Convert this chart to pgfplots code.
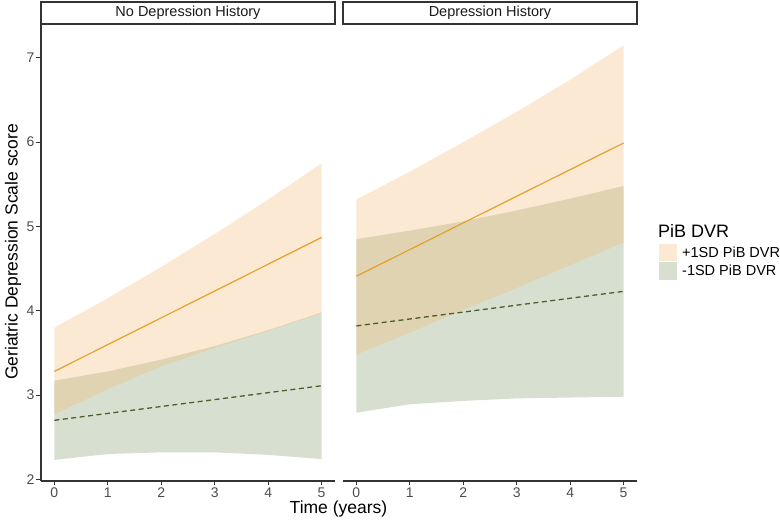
\documentclass[border=0pt]{standalone}
\usepackage{fontspec}
\setmainfont{Liberation Sans}
\usepackage{pgfplots}
\pgfplotsset{compat=1.18}

\definecolor{orfill}{RGB}{245,182,108}
\definecolor{grfill}{RGB}{122,152,98}
\definecolor{orline}{RGB}{229,160,46}
\definecolor{grline}{RGB}{75,94,43}
\definecolor{tickgray}{RGB}{77,77,77}
\definecolor{axgray}{RGB}{51,51,51}

\pgfplotsset{
  panel/.style={
    scale only axis, width=294pt, height=456pt,
    xmin=-0.25, xmax=5.25, ymin=1.98, ymax=7.39,
    xtick={0,1,2,3,4,5}, ytick={2,3,4,5,6,7},
    axis x line*=bottom,
    axis line style={-, draw=axgray, line width=1.1pt},
    tick align=outside, major tick length=4.5pt,
    tick style={draw=axgray, line width=0.8pt},
    ticklabel style={font=\fontsize{14}{16}\selectfont, text=tickgray, inner sep=2pt},
    /pgf/number format/assume math mode=true,
  },
  band/.style={draw=none, fill=#1, fill opacity=0.3},
  orl/.style={draw=orline, line width=1.2pt},
  grl/.style={draw=grline, line width=1.3pt, dash pattern=on 5pt off 3.5pt},
}

\begin{document}
\begin{tikzpicture}
\path[use as bounding box] (-41pt,-41pt) rectangle (739pt,481pt);

% Left panel: No Depression History
\begin{axis}[panel, at={(0pt,0pt)}, anchor=south west, axis y line*=left]
\addplot[band=grfill] coordinates {(0,3.17) (1,3.28) (2,3.42) (3,3.58) (4,3.77) (5,3.98)
  (5,2.24) (4,2.29) (3,2.32) (2,2.32) (1,2.30) (0,2.23)} -- cycle;
\addplot[band=orfill] coordinates {(0,3.80) (1,4.15) (2,4.52) (3,4.91) (4,5.32) (5,5.75)
  (5,3.97) (4,3.76) (3,3.56) (2,3.34) (1,3.07) (0,2.77)} -- cycle;
\addplot[orl] coordinates {(0,3.28) (5,4.87)};
\addplot[grl] coordinates {(0,2.70) (5,3.11)};
\end{axis}

% Right panel: Depression History
\begin{axis}[panel, at={(302pt,0pt)}, anchor=south west, axis y line=none, ytick=\empty,
  reverse legend,
  legend style={at={(1.0748,0.5197)}, anchor=north west, draw=none, fill=none,
    inner sep=0pt, row sep=1pt, column sep=3pt,
    font=\fontsize{14.5}{17}\selectfont, cells={anchor=west}},
  legend image code/.code={\fill[#1] (0pt,-8.6pt) rectangle (18pt,8.6pt);}]
\addplot[band=grfill] coordinates {(0,4.85) (1,4.95) (2,5.06) (3,5.19) (4,5.33) (5,5.48)
  (5,2.98) (4,2.97) (3,2.96) (2,2.93) (1,2.89) (0,2.79)} -- cycle;
\addlegendentry{-1SD PiB DVR}
\addplot[band=orfill] coordinates {(0,5.32) (1,5.65) (2,6.00) (3,6.36) (4,6.74) (5,7.15)
  (5,4.81) (4,4.54) (3,4.27) (2,4.01) (1,3.74) (0,3.48)} -- cycle;
\addlegendentry{+1SD PiB DVR}
\addplot[orl, forget plot] coordinates {(0,4.41) (5,5.99)};
\addplot[grl, forget plot] coordinates {(0,3.82) (5,4.23)};
\end{axis}

% strips
\draw[draw=axgray, line width=1.1pt, fill=white] (0pt,457pt) rectangle (294pt,479pt);
\node[font=\fontsize{14.5}{17}\selectfont, text={rgb,255:red,26;green,26;blue,26}] at (147pt,468pt) {No Depression History};
\draw[draw=axgray, line width=1.1pt, fill=white] (302pt,457pt) rectangle (596pt,479pt);
\node[font=\fontsize{14.5}{17}\selectfont, text={rgb,255:red,26;green,26;blue,26}] at (449pt,468pt) {Depression History};

% axis titles
\node[rotate=90, font=\fontsize{17.5}{20}\selectfont] at (-28pt,229pt) {Geriatric Depression Scale score};
\node[anchor=base, font=\fontsize{17.5}{20}\selectfont] at (297.5pt,-33pt) {Time (years)};
\node[anchor=base west, font=\fontsize{18}{20}\selectfont, inner sep=0pt] at (617pt,243pt) {PiB DVR};
\end{tikzpicture}
\end{document}
